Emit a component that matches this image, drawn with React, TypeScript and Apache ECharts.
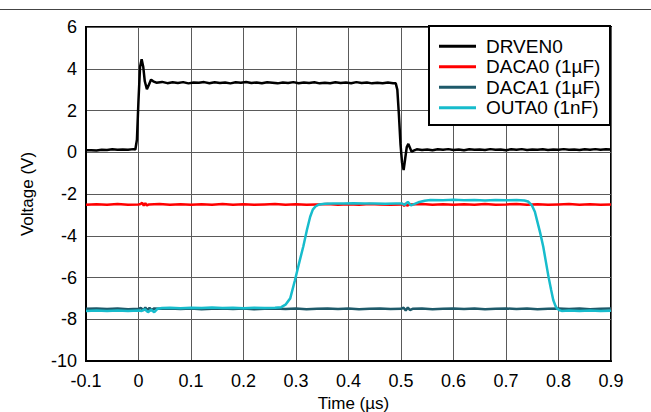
import React, { useEffect, useRef } from "react";
import * as echarts from "echarts";

type Pt = [number, number];

const xTicks = { min: -0.1, max: 0.9, interval: 0.1 };
const yTicks = { min: -10, max: 6, interval: 2 };

const seriesNames = ["DRVEN0", "DACA0 (1µF)", "DACA1 (1µF)", "OUTA0 (1nF)"];
const seriesColors = ["#000000", "#ff0000", "#1e5a6a", "#17bccc"];

const drven0: Pt[] = [
  [-0.1, 0.09], [-0.09, 0.1], [-0.08, 0.08], [-0.07, 0.12], [-0.06, 0.11], [-0.05, 0.14],
  [-0.04, 0.12], [-0.03, 0.13], [-0.02, 0.12], [-0.01, 0.15], [-0.006, 0.13], [-0.003, 0.6],
  [0, 2.5], [0.003, 4.1], [0.006, 4.45], [0.009, 4.1], [0.012, 3.4], [0.016, 3.02], [0.02, 3.25],
  [0.024, 3.48], [0.028, 3.4], [0.034, 3.33], [0.045, 3.37], [0.055, 3.31], [0.065, 3.35],
  [0.075, 3.32], [0.085, 3.36], [0.095, 3.3], [0.105, 3.34], [0.115, 3.33], [0.125, 3.36],
  [0.135, 3.31], [0.145, 3.35], [0.155, 3.32], [0.165, 3.34], [0.175, 3.3], [0.185, 3.35],
  [0.195, 3.33], [0.205, 3.37], [0.215, 3.32], [0.225, 3.34], [0.235, 3.31], [0.245, 3.35],
  [0.255, 3.33], [0.265, 3.3], [0.275, 3.34], [0.285, 3.32], [0.295, 3.36], [0.305, 3.31],
  [0.315, 3.34], [0.325, 3.32], [0.335, 3.35], [0.345, 3.3], [0.355, 3.33], [0.365, 3.31],
  [0.375, 3.35], [0.385, 3.32], [0.395, 3.34], [0.405, 3.31], [0.415, 3.36], [0.425, 3.32],
  [0.435, 3.34], [0.445, 3.3], [0.455, 3.33], [0.465, 3.31], [0.475, 3.34], [0.485, 3.31],
  [0.49, 3.3], [0.493, 3.0], [0.496, 1.8], [0.499, 0.4], [0.502, -0.5], [0.505, -0.85],
  [0.508, -0.3], [0.511, 0.25], [0.514, 0.4], [0.517, 0.22], [0.52, 0.03], [0.524, 0.08],
  [0.53, 0.14], [0.54, 0.11], [0.55, 0.13], [0.56, 0.1], [0.57, 0.14], [0.58, 0.12],
  [0.59, 0.15], [0.6, 0.11], [0.61, 0.13], [0.62, 0.1], [0.63, 0.14], [0.64, 0.12],
  [0.65, 0.13], [0.66, 0.11], [0.67, 0.15], [0.68, 0.12], [0.69, 0.13], [0.7, 0.1],
  [0.71, 0.14], [0.72, 0.12], [0.73, 0.15], [0.74, 0.11], [0.75, 0.13], [0.76, 0.12],
  [0.77, 0.14], [0.78, 0.11], [0.79, 0.13], [0.8, 0.12], [0.81, 0.15], [0.82, 0.12],
  [0.83, 0.13], [0.84, 0.11], [0.85, 0.14], [0.86, 0.12], [0.87, 0.15], [0.88, 0.12],
  [0.89, 0.14], [0.9, 0.13],
];

const daca0: Pt[] = [
  [-0.1, -2.52], [-0.08, -2.49], [-0.06, -2.51], [-0.04, -2.48], [-0.02, -2.51], [0, -2.5],
  [0.004, -2.48], [0.007, -2.42], [0.01, -2.56], [0.013, -2.44], [0.016, -2.55], [0.02, -2.5],
  [0.04, -2.48], [0.06, -2.51], [0.08, -2.49], [0.1, -2.52], [0.12, -2.49], [0.14, -2.51],
  [0.16, -2.48], [0.18, -2.51], [0.2, -2.49], [0.22, -2.52], [0.24, -2.5], [0.26, -2.48],
  [0.28, -2.51], [0.3, -2.49], [0.32, -2.52], [0.34, -2.5], [0.36, -2.48], [0.38, -2.51],
  [0.4, -2.49], [0.42, -2.51], [0.44, -2.48], [0.46, -2.5], [0.48, -2.52], [0.5, -2.5],
  [0.503, -2.47], [0.506, -2.58], [0.509, -2.45], [0.512, -2.56], [0.516, -2.5], [0.54, -2.48],
  [0.56, -2.51], [0.58, -2.49], [0.6, -2.52], [0.62, -2.49], [0.64, -2.51], [0.66, -2.48],
  [0.68, -2.51], [0.7, -2.5], [0.72, -2.48], [0.74, -2.51], [0.76, -2.49], [0.78, -2.52],
  [0.8, -2.5], [0.82, -2.48], [0.84, -2.51], [0.86, -2.49], [0.88, -2.52], [0.9, -2.5],
];

const daca1: Pt[] = [
  [-0.1, -7.5], [-0.08, -7.48], [-0.06, -7.51], [-0.04, -7.49], [-0.02, -7.52], [0, -7.5],
  [0.005, -7.46], [0.009, -7.58], [0.013, -7.44], [0.017, -7.57], [0.021, -7.45], [0.025, -7.56],
  [0.03, -7.48], [0.04, -7.5], [0.06, -7.48], [0.08, -7.51], [0.1, -7.49], [0.12, -7.52],
  [0.14, -7.5], [0.16, -7.48], [0.18, -7.51], [0.2, -7.49], [0.22, -7.52], [0.24, -7.5],
  [0.26, -7.48], [0.28, -7.51], [0.3, -7.49], [0.32, -7.52], [0.34, -7.5], [0.36, -7.48],
  [0.38, -7.51], [0.4, -7.49], [0.42, -7.52], [0.44, -7.5], [0.46, -7.48], [0.48, -7.51],
  [0.5, -7.5], [0.505, -7.45], [0.509, -7.58], [0.513, -7.44], [0.517, -7.56], [0.522, -7.5],
  [0.54, -7.49], [0.56, -7.52], [0.58, -7.5], [0.6, -7.48], [0.62, -7.51], [0.64, -7.49],
  [0.66, -7.52], [0.68, -7.5], [0.7, -7.48], [0.72, -7.51], [0.74, -7.49], [0.76, -7.52],
  [0.78, -7.5], [0.8, -7.48], [0.82, -7.51], [0.84, -7.49], [0.86, -7.52], [0.88, -7.5],
  [0.9, -7.49],
];

const outa0: Pt[] = [
  [-0.1, -7.6], [-0.08, -7.58], [-0.06, -7.61], [-0.04, -7.58], [-0.02, -7.6], [0, -7.58],
  [0.006, -7.6], [0.012, -7.52], [0.018, -7.66], [0.024, -7.54], [0.03, -7.66], [0.036, -7.5],
  [0.045, -7.46], [0.06, -7.45], [0.08, -7.47], [0.1, -7.45], [0.12, -7.46], [0.14, -7.44],
  [0.16, -7.46], [0.18, -7.45], [0.2, -7.47], [0.22, -7.45], [0.24, -7.46], [0.26, -7.45],
  [0.272, -7.42], [0.28, -7.3], [0.289, -7.0], [0.298, -6.13], [0.306, -5.3], [0.314, -4.5],
  [0.321, -3.7], [0.327, -3.09], [0.332, -2.75], [0.337, -2.6], [0.344, -2.5], [0.355, -2.47],
  [0.37, -2.45], [0.39, -2.46], [0.41, -2.44], [0.43, -2.46], [0.45, -2.45], [0.47, -2.47],
  [0.49, -2.45], [0.502, -2.46], [0.507, -2.52], [0.513, -2.38], [0.519, -2.55], [0.526, -2.47],
  [0.535, -2.38], [0.545, -2.32], [0.556, -2.29], [0.58, -2.3], [0.6, -2.28], [0.62, -2.3],
  [0.64, -2.29], [0.66, -2.31], [0.68, -2.29], [0.7, -2.3], [0.72, -2.29], [0.735, -2.31],
  [0.742, -2.36], [0.749, -2.53], [0.755, -2.85], [0.759, -3.25], [0.765, -3.85], [0.771, -4.53],
  [0.776, -5.25], [0.781, -5.97], [0.786, -6.6], [0.79, -7.08], [0.794, -7.35], [0.797, -7.48],
  [0.802, -7.57], [0.806, -7.6], [0.82, -7.58], [0.84, -7.6], [0.86, -7.58], [0.88, -7.61],
  [0.9, -7.59],
];

const seriesData: Pt[][] = [drven0, daca0, daca1, outa0];

const FONT = "'Liberation Sans', Arial, sans-serif";

export default function App() {
  const ref = useRef<HTMLDivElement>(null);

  useEffect(() => {
    if (!ref.current) return;
    const chart = echarts.init(ref.current, undefined, { renderer: "svg" });
    const option: any = {
      animation: false,
      backgroundColor: "#ffffff",
      textStyle: { fontFamily: FONT },
      grid: {
        left: 86,
        right: 40,
        top: 27,
        bottom: 51,
        show: true,
        borderColor: "#000",
        borderWidth: 2,
        backgroundColor: "transparent",
        outerBoundsMode: "none",
        containLabel: false,
      },
      xAxis: {
        type: "value",
        min: xTicks.min,
        max: xTicks.max,
        interval: xTicks.interval,
        name: "Time (µs)",
        nameLocation: "middle",
        nameGap: 28,
        nameTextStyle: {
          fontSize: 17,
          lineHeight: 18,
          color: "#000",
          fontFamily: FONT,
          padding: [0, 0, 0, 10],
        },
        axisLine: { show: true, onZero: false, lineStyle: { color: "#000", width: 2 } },
        axisTick: { show: false },
        axisLabel: {
          fontSize: 18,
          color: "#000",
          fontFamily: FONT,
          margin: 11,
          formatter: (v: number) => String(Math.round(v * 10) / 10),
        },
        splitLine: { show: true, lineStyle: { color: "#5a5a5a", width: 1 } },
      },
      yAxis: {
        type: "value",
        min: yTicks.min,
        max: yTicks.max,
        interval: yTicks.interval,
        name: "Voltage (V)",
        nameLocation: "middle",
        nameGap: 50,
        nameTextStyle: { fontSize: 17, color: "#000", fontFamily: FONT },
        axisLine: { show: true, onZero: false, lineStyle: { color: "#000", width: 2 } },
        axisTick: { show: false },
        axisLabel: { fontSize: 18, color: "#000", fontFamily: FONT, margin: 9 },
        splitLine: { show: true, lineStyle: { color: "#5a5a5a", width: 1 } },
      },
      legend: {
        orient: "vertical",
        left: 429,
        top: 26,
        padding: [10, 0, 0, 10],
        itemGap: 0,
        itemWidth: 37,
        itemHeight: 3,
        icon: "rect",
        z: 10,
        textStyle: {
          fontSize: 19,
          lineHeight: 20.5,
          color: "#000",
          fontFamily: FONT,
          padding: [0, 0, 0, 5],
        },
        data: seriesNames,
      },
      graphic: [
        {
          type: "line",
          shape: { x1: 0, y1: 9.5, x2: 651, y2: 9.5 },
          style: { stroke: "#444", lineWidth: 1 },
          z: 1,
        },
        {
          type: "rect",
          shape: { x: 429, y: 26, width: 181, height: 99 },
          style: { fill: "#fff", stroke: "#000", lineWidth: 2 },
          z: 3,
        },
      ],
      series: seriesNames.map((name, i) => ({
        name,
        type: "line",
        data: seriesData[i],
        showSymbol: false,
        symbol: "none",
        lineStyle: { color: seriesColors[i], width: 2.5 },
        itemStyle: { color: seriesColors[i] },
        z: 2 + i * 0.01,
      })),
    };
    chart.setOption(option);
    return () => chart.dispose();
  }, []);

  return (
    <div
      ref={ref}
      style={{ position: "absolute", left: 0, top: 0, width: 651, height: 412 }}
    />
  );
}
